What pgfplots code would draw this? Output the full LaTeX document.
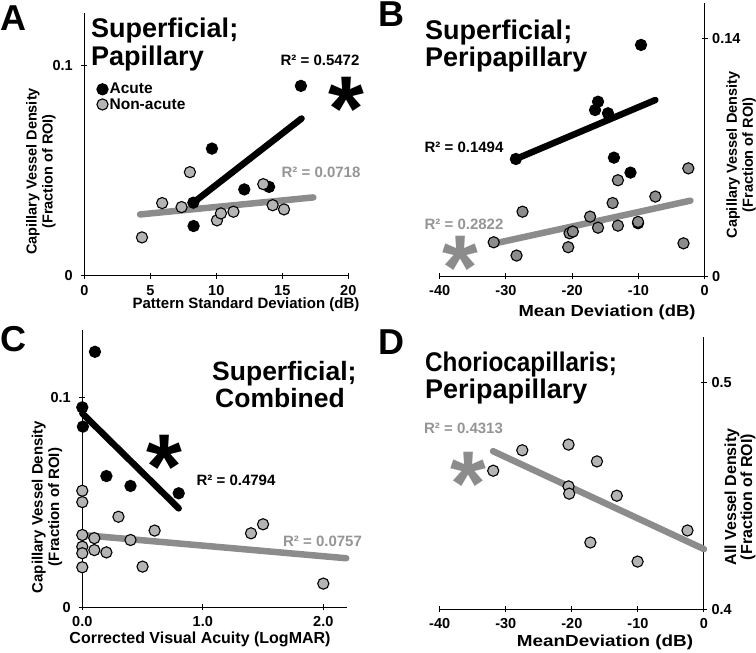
\documentclass[border=0pt]{standalone}
\usepackage{pgfplots}
\pgfplotsset{compat=1.18}
\usepackage{fontspec}
\setmainfont{Liberation Sans}
\definecolor{lgray}{HTML}{B4B4B4}
\definecolor{mgray}{HTML}{8C8C8C}
\definecolor{tgray}{HTML}{959595}
\newcommand{\fs}[1]{\fontsize{#1}{#1}\selectfont}
\newcommand{\tl}[1]{\textbf{\fs{14.5}\bfseries #1}}
\pgfplotsset{
  panel/.style={
    scale only axis, anchor=south west, clip=false,
    axis line style={-, black, line width=1pt},
    tick style={black, line width=1pt},
    major tick length=6pt, tick align=outside,
    xticklabel style={yshift=-3pt},
    xtick pos=bottom,
  },
  leftticks/.style={yticklabel style={xshift=-5pt}},
  rightticks/.style={yticklabel style={xshift=1pt}},
  acute/.style={only marks, mark=*, mark size=5.6pt, mark options={draw=black, fill=black, line width=1.1pt}},
  nonacute/.style={only marks, mark=*, mark size=5.6pt, mark options={draw=black, fill=#1, line width=1.1pt}},
  trend/.style={line width=6.5pt, line cap=round, color=#1, forget plot},
}
\begin{document}
\begin{tikzpicture}[x=1pt,y=1pt]
\path[use as bounding box] (0,0) rectangle (756,653);

% ---------------- Panel A ----------------
\begin{axis}[panel, leftticks, at={(84.3pt,377.3pt)}, width=264pt, height=262.4pt,
  axis x line=bottom, axis y line=left, axis line style={-},
  xmin=0, xmax=20, ymin=0, ymax=0.1247,
  xtick={0,5,10,15,20}, xticklabels={\tl{0},\tl{5},\tl{10},\tl{15},\tl{20}},
  ytick={0,0.1}, yticklabels={\tl{0},\tl{0.1}},
  legend style={at={(0.047,0.74)}, anchor=north west, draw=none, fill=none,
    row sep=0pt, inner sep=0pt, nodes={inner xsep=1.5pt, inner ysep=1.5pt}},
  legend cell align=left,
  legend image code/.code={\draw[#1] plot coordinates {(0pt,0pt)};},
]
\addplot[acute] coordinates {(16.41,0.0902)(9.67,0.0604)(12.12,0.041)(14.0,0.0422)(8.26,0.0347)(8.28,0.0236)};
\addlegendentry{\fs{15.5}\bfseries Acute}
\addplot[nonacute=lgray] coordinates {(4.37,0.0182)(5.9,0.0345)(7.37,0.0326)(8.0,0.0492)(10.05,0.0263)(10.35,0.0296)(11.3,0.0304)(13.56,0.0435)(14.27,0.0335)(15.13,0.0315)};
\addlegendentry{\fs{15.5}\bfseries Non-acute}
\addplot[trend=black] coordinates {(8.26,0.0347)(16.46,0.0747)};
\addplot[trend=mgray] coordinates {(4.22,0.0291)(17.35,0.0372)};
\end{axis}

% ---------------- Panel B ----------------
\begin{axis}[panel, rightticks, at={(439.7pt,376.7pt)}, width=265pt, height=273pt,
  axis x line=bottom, axis y line=right, axis line style={-},
  xmin=-40, xmax=0, ymin=0, ymax=0.1606,
  xtick={-40,-30,-20,-10,0}, xticklabels={\tl{-40},\tl{-30},\tl{-20},\tl{-10},\tl{0}},
  ytick={0,0.14}, yticklabels={\tl{0},\tl{0.14}},
]
\addplot[acute] coordinates {(-9.61,0.1361)(-16.1,0.1027)(-16.55,0.0978)(-14.6,0.0959)(-28.5,0.069)(-13.7,0.0698)(-11.2,0.061)(-10.06,0.0312)(-20.0,0.0262)};
\addplot[nonacute=mgray] coordinates {(-2.47,0.0635)(-13.1,0.0565)(-27.5,0.038)(-7.45,0.0469)(-13.9,0.0431)(-17.3,0.0351)(-16.1,0.0286)(-13.1,0.0298)(-10.06,0.032)(-20.4,0.0253)(-19.9,0.0263)(-20.6,0.0171)(-31.85,0.02)(-28.4,0.0122)(-3.2,0.0194)};
\addplot[trend=black] coordinates {(-28.5,0.069)(-7.45,0.1037)};
\addplot[trend=mgray] coordinates {(-31.85,0.0192)(-2.16,0.0445)};
\end{axis}

% ---------------- Panel C ----------------
\begin{axis}[panel, leftticks, at={(82.3pt,45.7pt)}, width=264.4pt, height=277.3pt,
  axis x line=bottom, axis y line=left, axis line style={-},
  xmin=0, xmax=2.194, ymin=0, ymax=0.1323,
  xtick={0,1,2}, xticklabels={\tl{0.0},\tl{1.0},\tl{2.0}},
  ytick={0,0.1}, yticklabels={\tl{0},\tl{0.1}},
]
\addplot[acute] coordinates {(0.105,0.1219)(0,0.0954)(0.005,0.0862)(0.2,0.0626)(0.4,0.0579)(0.8,0.0544)};
\addplot[nonacute=lgray] coordinates {(0,0.0556)(0,0.0502)(0.1,0.033)(0,0.0345)(0,0.0289)(0,0.0258)(0,0.0191)(0.1,0.0273)(0.2,0.0262)(0.3,0.0432)(0.4,0.0321)(0.5,0.0194)(0.6,0.0366)(1.4,0.0353)(1.5,0.0396)(2.0,0.0113)};
\addplot[trend=black] coordinates {(0,0.0925)(0.8,0.0472)};
\addplot[trend=mgray] coordinates {(0,0.0345)(2.19,0.0234)};
\end{axis}

% ---------------- Panel D ----------------
\begin{axis}[panel, rightticks, at={(439.7pt,43.7pt)}, width=264.3pt, height=272.6pt,
  axis x line=bottom, axis y line=right, axis line style={-},
  xmin=-40, xmax=0, ymin=0.4, ymax=0.52,
  xtick={-40,-30,-20,-10,0}, xticklabels={\tl{-40},\tl{-30},\tl{-20},\tl{-10},\tl{0}},
  ytick={0.4,0.5}, yticklabels={\tl{0.4},\tl{0.5}},
]
\addplot[nonacute=lgray] coordinates {(-31.9,0.461)(-27.5,0.470)(-20.5,0.4725)(-16.2,0.4651)(-20.5,0.4541)(-20.4,0.4509)(-13.2,0.450)(-2.5,0.4347)(-17.2,0.4294)(-10.05,0.421)};
\addplot[trend=mgray] coordinates {(-31.93,0.4696)(0,0.4265)};
\end{axis}

% ---------------- Texts ----------------
\begin{scope}[every node/.style={inner sep=0pt}]
% panel letters
\node[anchor=base west, font=\bfseries\fs{36}] at (0,622) {A};
\node[anchor=base west, font=\bfseries\fs{36}] at (378,626) {B};
\node[anchor=base west, font=\bfseries\fs{36}] at (0,301) {C};
\node[anchor=base west, font=\bfseries\fs{36}] at (378,298) {D};
% titles
\node[anchor=base west, font=\bfseries\fs{27}] at (91,615.7) {Superficial;};
\node[anchor=base west, font=\bfseries\fs{27}] at (91,587.5) {Papillary};
\node[anchor=base west, font=\bfseries\fs{27}] at (425,613.7) {Superficial;};
\node[anchor=base west, font=\bfseries\fs{27}] at (425,586.3) {Peripapillary};
\node[anchor=base west, font=\bfseries\fs{26.5}] at (212,272) {Superficial;};
\node[anchor=base west, font=\bfseries\fs{26.5}] at (215,245.7) {Combined};
\node[anchor=base west, font=\bfseries\fs{27}, xscale=0.9] at (425,281.3) {Choriocapillaris;};
\node[anchor=base west, font=\bfseries\fs{27}] at (425,254.7) {Peripapillary};
% R^2 labels
\node[font=\bfseries\fs{15}] at (320,593) {R² = 0.5472};
\node[font=\bfseries\fs{15}, text=tgray] at (321,481) {R² = 0.0718};
\node[font=\bfseries\fs{15}] at (464,506) {R² = 0.1494};
\node[font=\bfseries\fs{15}, text=tgray] at (464,429) {R² = 0.2822};
\node[font=\bfseries\fs{15}] at (236,173) {R² = 0.4794};
\node[font=\bfseries\fs{15}, text=tgray] at (322.5,112) {R² = 0.0757};
\node[font=\bfseries\fs{15}, text=tgray] at (463.5,225) {R² = 0.4313};
% asterisks
\node[anchor=north, font=\bfseries\fs{92}] at (346,576) {*};
\node[anchor=north, font=\bfseries\fs{92}, text=mgray] at (460.5,417) {*};
\node[anchor=north, font=\bfseries\fs{92}] at (164,218) {*};
\node[anchor=north, font=\bfseries\fs{92}, text=mgray] at (468,201.3) {*};
% axis labels
\node[font=\bfseries\fs{15}] at (246,348) {Pattern Standard Deviation (dB)};
\node[font=\bfseries\fs{16}, xscale=1.15] at (607,341) {Mean Deviation (dB)};
\node[font=\bfseries\fs{16}] at (200,14) {Corrected Visual Acuity (LogMAR)};
\node[font=\bfseries\fs{16}, xscale=1.18] at (605,11) {MeanDeviation (dB)};
\node[font=\bfseries\fs{14.5}, rotate=90, align=center] at (41,481.5) {Capillary Vessel Density\\[1.5pt](Fraction of ROI)};
\node[font=\bfseries\fs{14.5}, rotate=90, align=center] at (741,498) {Capillary Vessel Density\\[1.5pt](Fraction of ROI)};
\node[font=\bfseries\fs{15}, rotate=90, align=center] at (47,146) {Capillary Vessel Density\\[1.5pt](Fraction of ROI)};
\node[font=\bfseries\fs{16}, rotate=90, align=center] at (740,156) {All Vessel Density\\[0pt](Fraction of ROI)};
\end{scope}
\end{tikzpicture}
\end{document}
